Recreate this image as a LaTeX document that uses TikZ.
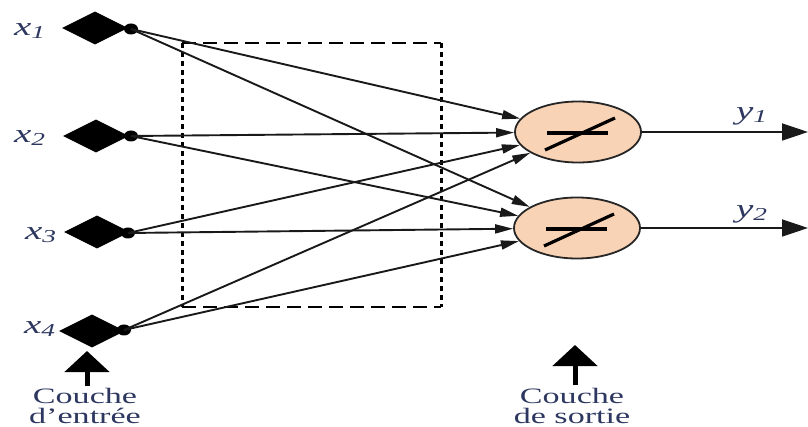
\documentclass[tikz,border=0pt]{standalone}
\usepackage{fontspec}
\usepackage{graphicx}
\setmainfont{Liberation Serif}
\usetikzlibrary{shapes.geometric,arrows.meta}
\definecolor{labelblue}{RGB}{45,55,95}
\definecolor{neuronfill}{RGB}{249,211,181}
\begin{document}
\begin{tikzpicture}[x=1pt,y=-1pt,
  inputdiamond/.style={diamond,fill=black,inner sep=0pt,minimum width=66pt,minimum height=33pt},
  inputdot/.style={ellipse,fill=black,inner sep=0pt,minimum width=14pt,minimum height=11pt},
  neuron/.style={ellipse,draw=black!85,line width=1.8pt,fill=neuronfill,minimum width=126pt,minimum height=61pt,inner sep=0pt},
  weight/.style={line width=1.9pt,draw=black!90,-{Triangle[length=18pt,width=9pt]}},
  outarrow/.style={line width=1.8pt,draw=black!90,-{Triangle[length=26pt,width=17pt]}},
  layerarrow/.style={line width=5pt,-{Triangle[length=21pt,width=44pt]}},
  varlabel/.style={text=labelblue,font=\fontsize{26}{28}\selectfont,inner sep=0pt},
  layerlabel/.style={text=labelblue,font=\fontsize{22}{26}\selectfont,inner sep=0pt,anchor=base,text height=15pt,text depth=1pt},
  boxedge/.style={line width=2.6pt},
  symbol/.style={line width=3.2pt}]
\useasboundingbox (0,0) rectangle (808,427);

% input layer
\node[inputdiamond] (d1) at (95,28) {};
\node[inputdiamond] (d2) at (96,136) {};
\node[inputdiamond] (d3) at (97,232) {};
\node[inputdiamond] (d4) at (92,331) {};
\node[inputdot] (i1) at (131,29) {};
\node[inputdot] (i2) at (131,136) {};
\node[inputdot] (i3) at (128,233) {};
\node[inputdot] (i4) at (124,330) {};

\node[varlabel] (l1) at (30,31) {\scalebox{1.5}[1]{\textit{x}\textsubscript{\textit{1}}}};
\node[varlabel] (l2) at (30,138) {\scalebox{1.5}[1]{\textit{x}\textsubscript{\textit{2}}}};
\node[varlabel] (l3) at (41,235) {\scalebox{1.5}[1]{\textit{x}\textsubscript{\textit{3}}}};
\node[varlabel] (l4) at (40,329) {\scalebox{1.5}[1]{\textit{x}\textsubscript{\textit{4}}}};

% weight matrix (dashed frame)
\coordinate (w1) at (182,43);
\coordinate (w2) at (441,43);
\coordinate (w3) at (441,307);
\coordinate (w4) at (182,307);
\draw[boxedge,dash pattern=on 14pt off 7pt] (w1) -- (w2);
\draw[boxedge,dash pattern=on 14pt off 7pt] (w4) -- (w3);
\draw[boxedge,line width=3pt,dash pattern=on 5pt off 4pt] (w1) -- (w4);
\draw[boxedge,line width=3pt,dash pattern=on 5pt off 4pt] (w2) -- (w3);

% output layer
\node[neuron] (n1) at (578,132) {};
\node[neuron] (n2) at (577,228) {};
\foreach \n in {n1,n2}{
  \draw[symbol] ([shift={(-31,1)}]\n.center) -- ([shift={(30,1)}]\n.center);
  \draw[symbol] ([shift={(-33,18)}]\n.center) -- ([shift={(37,-14)}]\n.center);
}

% connections
\foreach \i in {i1,i2,i3,i4}{
  \draw[weight] (\i.center) -- (n1);
  \draw[weight] (\i.center) -- (n2);
}

% outputs
\coordinate (o1) at (808,132);
\coordinate (o2) at (808,228);
\draw[outarrow] (n1) -- (o1);
\draw[outarrow] (n2) -- (o2);
\node[varlabel] (ly1) at (752,116) {\scalebox{1.5}[1]{\textit{y}\textsubscript{\textit{1}}}};
\node[varlabel] (ly2) at (752,214) {\scalebox{1.5}[1]{\textit{y}\textsubscript{\textit{2}}}};

% layer captions
\node[layerlabel] (cin1) at (85,403) {\scalebox{1.55}[1]{Couche}};
\node[layerlabel] (cin2) at (85,423) {\scalebox{1.55}[1]{d'entrée}};
\node[layerlabel] (cout1) at (572,403) {\scalebox{1.55}[1]{Couche}};
\node[layerlabel] (cout2) at (572,423) {\scalebox{1.55}[1]{de sortie}};
\coordinate (ain) at (87,386);
\coordinate (aout) at (575,385);
\coordinate (tin) at (87,351);
\coordinate (tout) at (575,345);
\draw[layerarrow] (ain) -- (tin);
\draw[layerarrow] (aout) -- (tout);
\end{tikzpicture}
\end{document}
